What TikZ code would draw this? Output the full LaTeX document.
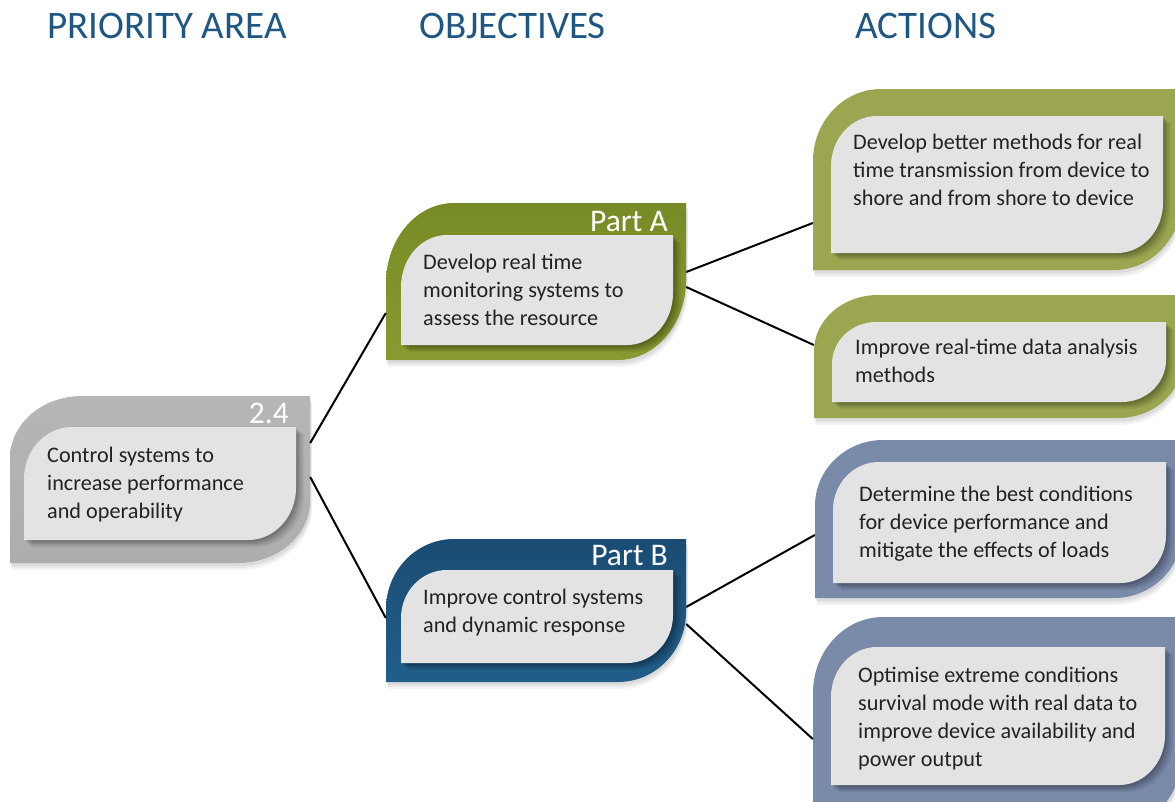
\documentclass[tikz,border=0pt]{standalone}
\usepackage{fontspec}
\setmainfont{Carlito}
\usepackage{xcolor}
\usepackage{tikz}
\usetikzlibrary{shadows}
\usetikzlibrary{fit,positioning}
\definecolor{headblue}{HTML}{1F5782}
\definecolor{greytop}{HTML}{B6B6B6}
\definecolor{greybot}{HTML}{ADADAD}
\definecolor{olivetop}{HTML}{778B25}
\definecolor{olivebot}{HTML}{889B31}
\definecolor{navytop}{HTML}{1A4C73}
\definecolor{navybot}{HTML}{225E89}
\definecolor{sage}{HTML}{9CA650}
\definecolor{slate}{HTML}{7A8AA9}
\definecolor{paper}{HTML}{E3E3E3}
\definecolor{ink}{HTML}{222222}
% leaf outline: x1, y1 (top), x2, y2 (bottom), corner radii, y measured downwards
\newcommand{\leaf}[6]{(#1,-#4) -- (#1,{-#2-#6}) arc[start angle=180,end angle=90,x radius=#5,y radius=#6] -- (#3,-#2) -- (#3,{-#4+#6}) arc[start angle=0,end angle=-90,x radius=#5,y radius=#6] -- cycle}

\begin{document}
\begin{tikzpicture}[x=1pt,y=1pt,
	outer/.style={general shadow={fill=black,opacity=.04,shadow xshift=2pt,shadow yshift=-7pt},general shadow={fill=black,opacity=.05,shadow xshift=1.5pt,shadow yshift=-5pt},general shadow={fill=black,opacity=.06,shadow xshift=1pt,shadow yshift=-3pt}},
	inner/.style={fill=paper,general shadow={fill=black,opacity=.06,shadow xshift=8pt,shadow yshift=-7pt},general shadow={fill=black,opacity=.08,shadow xshift=6pt,shadow yshift=-5.5pt},general shadow={fill=black,opacity=.10,shadow xshift=4pt,shadow yshift=-4pt},general shadow={fill=black,opacity=.12,shadow xshift=2pt,shadow yshift=-2pt}},
	hold/.style={inner sep=0,draw=none},
	head/.style={anchor=base west,inner sep=0,text=headblue,font=\fontsize{39}{39}\selectfont},
	tag/.style={anchor=base east,inner sep=0,text=white,font=\fontsize{31.5}{31.5}\selectfont},
	txt/.style={anchor=base west,align=left,inner sep=0,text=ink,font=\fontsize{22.2}{28}\selectfont},
	link/.style={line width=2pt,black}]
	\useasboundingbox (0,0) rectangle (1175,-801);
	% headings
	\node[head] (hpri) at (47,-38) {PRIORITY AREA};
	\node[head] (hobj) at (419,-38) {OBJECTIVES};
	\node[head] (hact) at (855,-38) {ACTIONS};
	% priority area (text nodes sit on their last baseline)
	\path[outer,top color=greytop,bottom color=greybot] \leaf{10}{396}{310}{563}{72}{62};
	\path[inner] \leaf{24}{427}{296}{540}{48}{52};
	\node[hold,fit={(10,-396) (310,-563)}] (pa24) {};
	\node[tag] (t24) at (289,-423) {2.4};
	\node[txt] (x24) at (47,-518) {Control systems to\\increase performance\\and operability};
	% objectives
	\path[outer,top color=olivetop,bottom color=olivebot] \leaf{386}{203}{686}{360}{68}{80};
	\path[inner] \leaf{401}{235}{673}{345}{46}{52};
	\node[hold,fit={(386,-203) (686,-360)}] (oba) {};
	\node[tag] (ta) at (668,-231) {Part A};
	\node[txt] (xa) at (423,-325) {Develop real time\\monitoring systems to\\assess the resource};
	\path[outer,top color=navytop,bottom color=navybot] \leaf{386}{539}{686}{682}{68}{70};
	\path[inner] \leaf{401}{570}{673}{663}{46}{48};
	\node[hold,fit={(386,-539) (686,-682)}] (obb) {};
	\node[tag] (tb) at (668,-565) {Part B};
	\node[txt] (xb) at (423,-632) {Improve control systems\\and dynamic response};
	% actions
	\path[outer,fill=sage] \leaf{813}{89}{1182}{270}{68}{72};
	\path[inner] \leaf{831}{116}{1163}{253}{46}{50};
	\node[hold,fit={(813,-89) (1182,-270)}] (aca1) {};
	\node[txt] (xa1) at (853,-205) {Develop better methods for real\\time transmission from device to\\shore and from shore to device};
	\path[outer,fill=sage] \leaf{814}{295}{1182}{418}{64}{56};
	\path[inner] \leaf{832}{322}{1166}{402}{44}{42};
	\node[hold,fit={(814,-295) (1182,-418)}] (aca2) {};
	\node[txt] (xa2) at (855,-382) {Improve real-time data analysis\\methods};
	\path[outer,fill=slate] \leaf{815}{440}{1182}{598}{68}{66};
	\path[inner] \leaf{833}{462}{1166}{583}{46}{48};
	\node[hold,fit={(815,-440) (1182,-598)}] (acb1) {};
	\node[txt] (xb1) at (859,-557) {Determine the best conditions\\for device performance and\\mitigate the effects of loads};
	\path[outer,fill=slate] \leaf{813}{617}{1182}{830}{70}{76};
	\path[inner] \leaf{831}{647}{1165}{785}{46}{50};
	\node[hold,fit={(813,-617) (1182,-830)}] (acb2) {};
	\node[txt] (xb2) at (858,-766) {Optimise extreme conditions\\survival mode with real data to\\improve device availability and\\power output};
	% connectors
	\draw[link] ([yshift=36.5pt]pa24.east) -- ([yshift=-31.5pt]oba.west);
	\draw[link] ([yshift=2.5pt]pa24.east) -- ([yshift=-7.5pt]obb.west);
	\draw[link] ([yshift=9.5pt]oba.east) -- ([yshift=-43.5pt]aca1.west);
	\draw[link] ([yshift=-5.5pt]oba.east) -- ([yshift=11.5pt]aca2.west);
	\draw[link] ([yshift=3.5pt]obb.east) -- ([yshift=-16pt]acb1.west);
	\draw[link] ([yshift=-13.5pt]obb.east) -- ([yshift=-15.5pt]acb2.west);
\end{tikzpicture}
\end{document}
